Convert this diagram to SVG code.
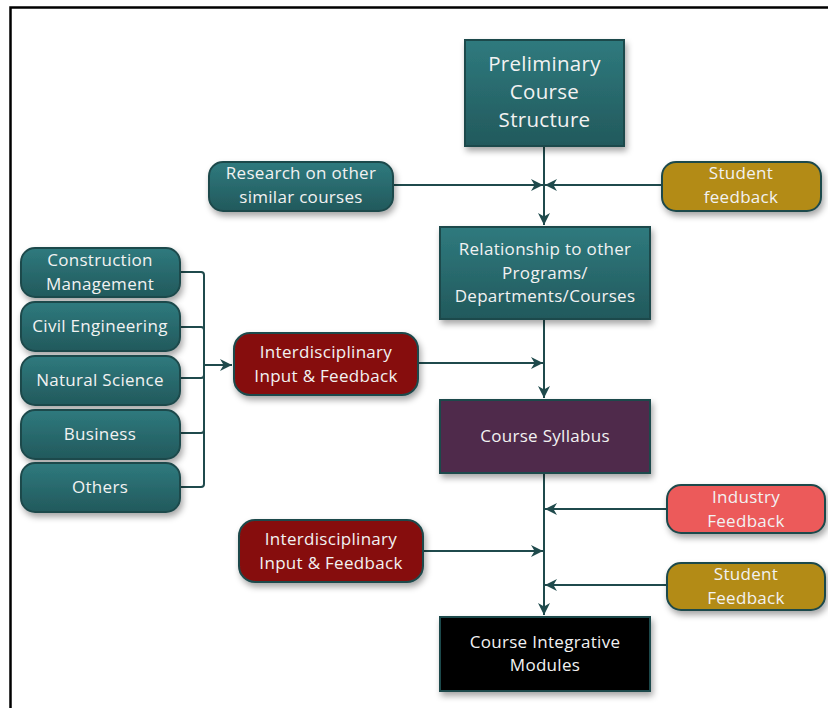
<svg xmlns="http://www.w3.org/2000/svg" width="828" height="708" viewBox="0 0 828 708">
<defs>
<linearGradient id="teal" x1="0" y1="0" x2="0" y2="1"><stop offset="0" stop-color="#2f7a7e"/><stop offset="1" stop-color="#22595c"/></linearGradient>
<filter id="sh" x="-10%" y="-10%" width="130%" height="140%"><feDropShadow dx="2" dy="4" stdDeviation="3" flood-color="#000" flood-opacity="0.35"/></filter>
<marker id="ah" viewBox="0 0 10 10" refX="10" refY="5" markerWidth="12" markerHeight="12" markerUnits="userSpaceOnUse" orient="auto"><path d="M0,0 L10,5 L0,10 L3,5 Z" fill="#1f4a4c"/></marker>
<style>
.box{stroke:#1f4a4c;stroke-width:2;filter:url(#sh)}
.t{fill:url(#teal)}
.t16{font-family:"Open Sans","Liberation Sans",Arial,sans-serif;font-size:17px;letter-spacing:0.3px;fill:#f2f2f2;text-anchor:middle}
.t20{font-family:"Open Sans","Liberation Sans",Arial,sans-serif;font-size:20.5px;letter-spacing:0.3px;fill:#f2f2f2;text-anchor:middle}
.ln{stroke:#1f4a4c;stroke-width:2;fill:none}
</style>
</defs>
<rect x="0" y="0" width="828" height="708" fill="#fff"/>
<path d="M10.5,708 V7.5 H828" fill="none" stroke="#000" stroke-width="2.5"/>

<g id="connectors">
<path class="ln" d="M544,146 V225" marker-end="url(#ah)"/>
<path class="ln" d="M393,185 H543" marker-end="url(#ah)"/>
<path class="ln" d="M662,185 H545" marker-end="url(#ah)"/>
<path class="ln" d="M544,319 V398" marker-end="url(#ah)"/>
<path class="ln" d="M418,363 H543" marker-end="url(#ah)"/>
<path class="ln" d="M180,272 H201 Q204,272 204,275 V484 Q204,487 201,487 H180"/>
<path class="ln" d="M180,327 H201 Q204,327 204,330"/>
<path class="ln" d="M180,378 H201 Q204,378 204,375"/>
<path class="ln" d="M180,433 H201 Q204,433 204,430"/>
<path class="ln" d="M204,365 H232" marker-end="url(#ah)"/>
<path class="ln" d="M544,473 V615" marker-end="url(#ah)"/>
<path class="ln" d="M667,509 H545" marker-end="url(#ah)"/>
<path class="ln" d="M423,551 H543" marker-end="url(#ah)"/>
<path class="ln" d="M667,585 H545" marker-end="url(#ah)"/>
</g>

<g id="preliminary"><rect class="box t" x="465" y="40" width="159" height="106"/>
<text class="t20" x="544.5" y="71">Preliminary</text><text class="t20" x="544.5" y="99">Course</text><text class="t20" x="544.5" y="127">Structure</text></g>

<g id="research"><rect class="box t" x="209" y="162" width="184" height="49" rx="14"/>
<text class="t16" x="301" y="179">Research on other</text><text class="t16" x="301" y="203">similar courses</text></g>

<g id="student1"><rect class="box" fill="#b38b17" x="662" y="162" width="159" height="49" rx="14"/>
<text class="t16" x="741" y="179">Student</text><text class="t16" x="741" y="203">feedback</text></g>

<g id="relationship"><rect class="box t" x="440" y="227" width="210" height="92"/>
<text class="t16" x="545" y="255">Relationship to other</text><text class="t16" x="545" y="279">Programs/</text><text class="t16" x="545" y="302">Departments/Courses</text></g>

<g id="construction"><rect class="box t" x="21" y="248" width="159" height="49" rx="14"/>
<text class="t16" x="100" y="266">Construction</text><text class="t16" x="100" y="290">Management</text></g>
<g id="civil"><rect class="box t" x="21" y="302" width="159" height="49" rx="14"/>
<text class="t16" x="100" y="332">Civil Engineering</text></g>
<g id="natural"><rect class="box t" x="21" y="356" width="159" height="49" rx="14"/>
<text class="t16" x="100" y="386">Natural Science</text></g>
<g id="business"><rect class="box t" x="21" y="410" width="159" height="49" rx="14"/>
<text class="t16" x="100" y="440">Business</text></g>
<g id="others"><rect class="box t" x="21" y="463" width="159" height="49" rx="14"/>
<text class="t16" x="100" y="493">Others</text></g>

<g id="interdisc1"><rect class="box" fill="#861010" x="234" y="333" width="184" height="62" rx="16"/>
<text class="t16" x="326" y="358">Interdisciplinary</text><text class="t16" x="326" y="382">Input &amp; Feedback</text></g>

<g id="syllabus"><rect class="box" fill="#502c4c" x="440" y="400" width="210" height="73"/>
<text class="t16" x="545" y="442">Course Syllabus</text></g>

<g id="industry"><rect class="box" fill="#ec5a5a" x="667" y="485" width="158" height="48" rx="14"/>
<text class="t16" x="746" y="503">Industry</text><text class="t16" x="746" y="527">Feedback</text></g>

<g id="interdisc2"><rect class="box" fill="#861010" x="239" y="520" width="184" height="62" rx="16"/>
<text class="t16" x="331" y="545">Interdisciplinary</text><text class="t16" x="331" y="569">Input &amp; Feedback</text></g>

<g id="student2"><rect class="box" fill="#b38b17" x="667" y="563" width="158" height="47" rx="14"/>
<text class="t16" x="746" y="580">Student</text><text class="t16" x="746" y="604">Feedback</text></g>

<g id="integrative"><rect class="box" fill="#050505" x="440" y="617" width="210" height="74"/>
<text class="t16" x="545" y="648">Course Integrative</text><text class="t16" x="545" y="671">Modules</text></g>
</svg>
